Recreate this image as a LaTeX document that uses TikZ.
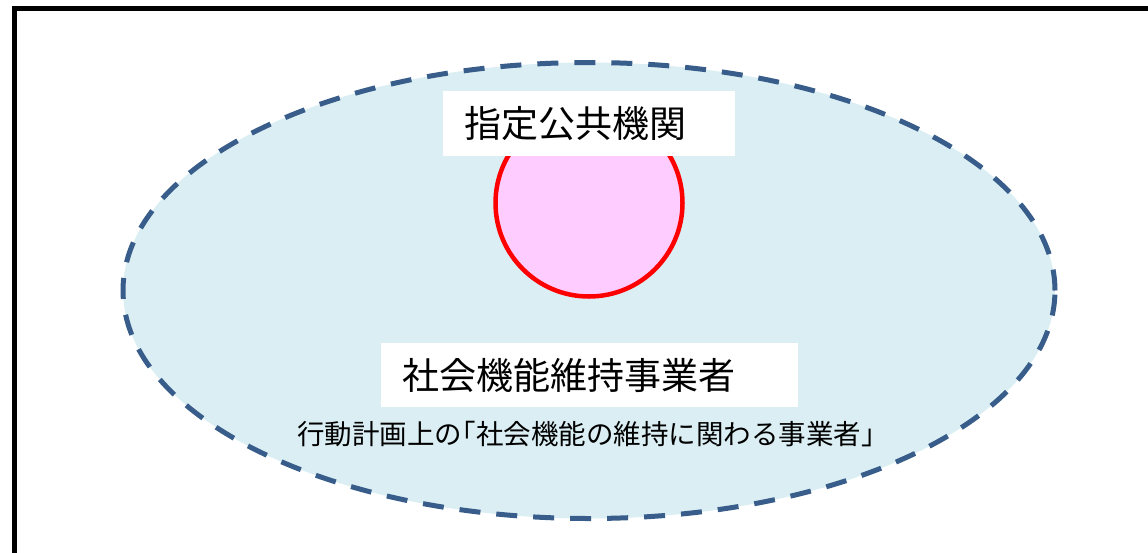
\documentclass[tikz,border=0pt]{standalone}
\usepackage{fontspec}
\setmainfont{Noto Sans CJK JP}
\newfontfamily\notafont[RawFeature=+halt]{Noto Sans CJK JP}
\definecolor{bordoblu}{HTML}{385D8A}
\definecolor{azzurrino}{HTML}{DAEEF3}
\definecolor{rosa}{HTML}{FFCCFF}

\begin{document}
\begin{tikzpicture}[x=1pt,y=-1pt,
    etichetta/.style={fill=white, anchor=north west, inner xsep=21pt, inner ysep=0pt, align=left, font=\fontsize{37}{40}\selectfont}]
    \useasboundingbox (0,0) rectangle (1148,552);
    % Disegna la cornice
    \draw[line width=5pt] (14,8) rectangle (1170,580);
    % Disegna l'ellisse tratteggiata
    \draw[line width=5pt, bordoblu, fill=azzurrino, dash pattern=on 21pt off 16pt] (589,290.5) ellipse (466pt and 228pt);
    % Disegna il cerchio
    \draw[line width=4.5pt, red, fill=rosa] (589,203) circle (93.5pt);
    % Etichette
    \node[etichetta, minimum height=65pt, text width=250pt] (pubblici) at (443,91) {指定公共機関};
    \node[etichetta, minimum height=64pt, text width=375pt] (operatori) at (381,343) {社会機能維持事業者};
    \node[font=\notafont\fontsize{27.5}{30}\selectfont] (nota) at (586,434) {行動計画上の「社会機能の維持に関わる事業者」};
\end{tikzpicture}
\end{document}
